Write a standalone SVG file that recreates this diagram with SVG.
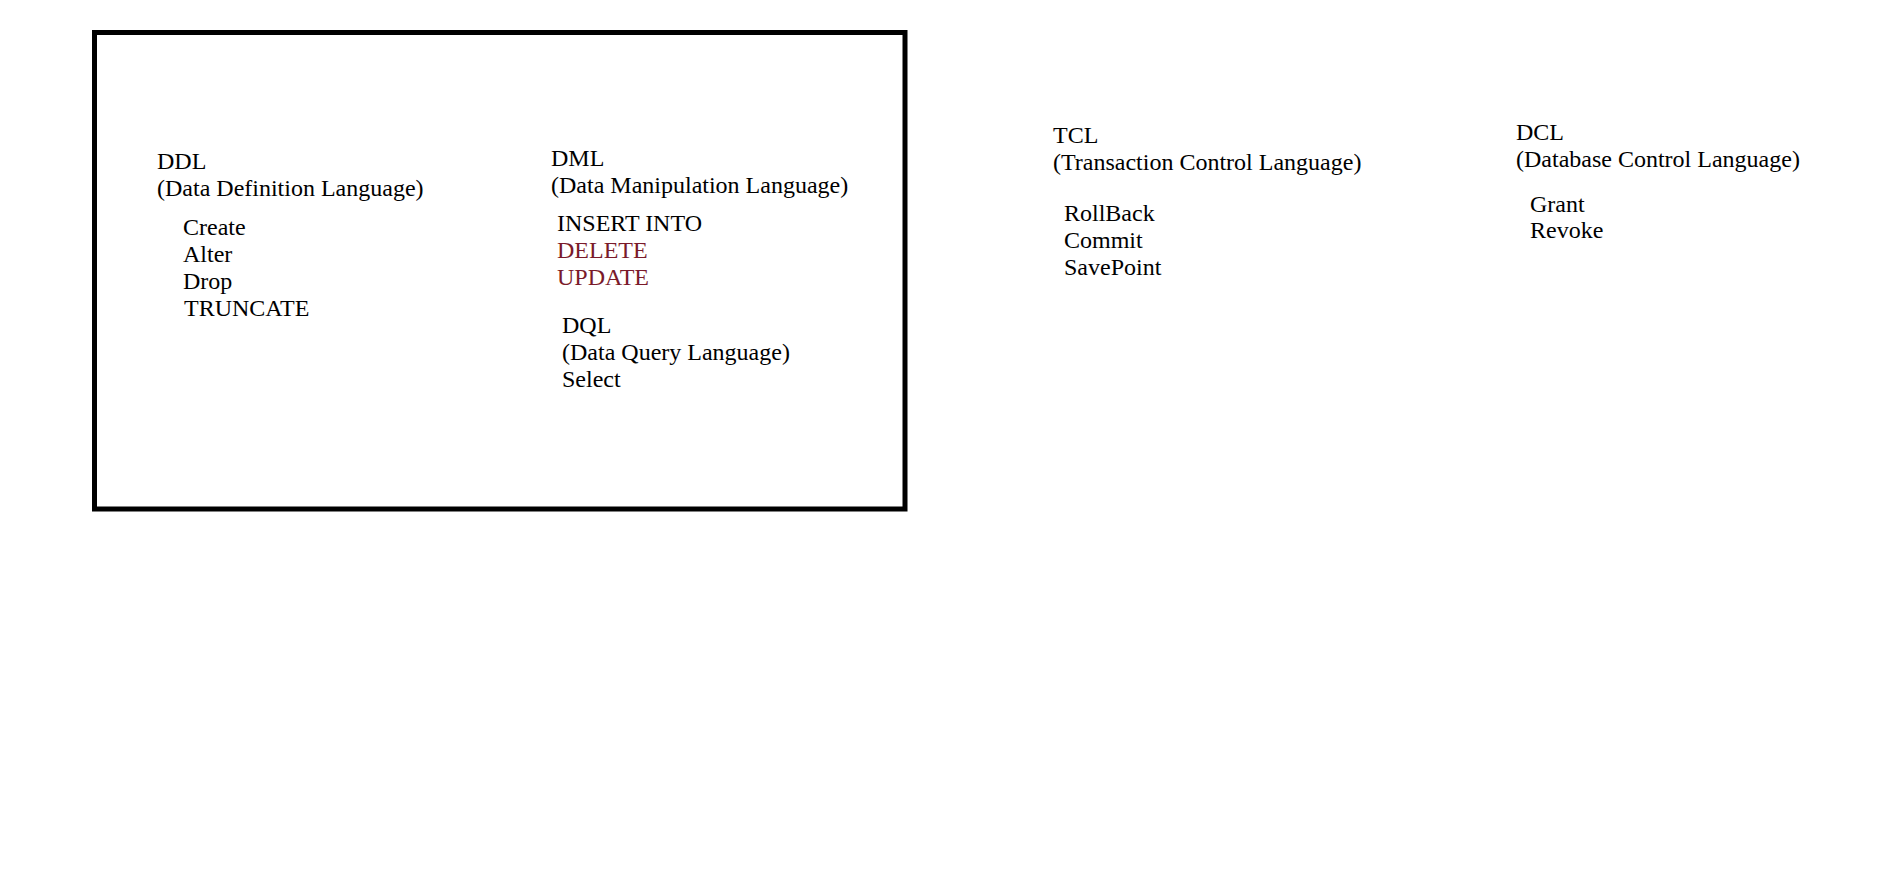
<svg xmlns="http://www.w3.org/2000/svg" width="1891" height="895" viewBox="0 0 1891 895">
<style>
text{font-family:"Liberation Serif","Times New Roman",serif;font-size:24px;fill:#000}
.red{fill:#7a1a2a}
.frame{fill:none;stroke:#000;stroke-width:5}
</style>
<rect width="1891" height="895" fill="#fff"/>
<g id="frame"><rect class="frame" x="94.5" y="32.5" width="810.5" height="476.5"/></g>
<g id="connectors"/>
<g id="ddl">
<text x="157" y="169">DDL</text>
<text x="157" y="196">(Data Definition Language)</text>
<text x="183" y="235">Create</text>
<text x="183" y="262">Alter</text>
<text x="183" y="289">Drop</text>
<text x="184" y="316">TRUNCATE</text>
</g>
<g id="dml">
<text x="551" y="166">DML</text>
<text x="551" y="193">(Data Manipulation Language)</text>
<text x="557" y="231">INSERT INTO</text>
<text class="red" x="557" y="258">DELETE</text>
<text class="red" x="557" y="285">UPDATE</text>
</g>
<g id="dql">
<text x="562" y="333">DQL</text>
<text x="562" y="360">(Data Query Language)</text>
<text x="562" y="387">Select</text>
</g>
<g id="tcl">
<text x="1053" y="143">TCL</text>
<text x="1053" y="170">(Transaction Control Language)</text>
<text x="1064" y="221">RollBack</text>
<text x="1064" y="248">Commit</text>
<text x="1064" y="275">SavePoint</text>
</g>
<g id="dcl">
<text x="1516" y="140">DCL</text>
<text x="1516" y="167">(Database Control Language)</text>
<text x="1530" y="212">Grant</text>
<text x="1530" y="238">Revoke</text>
</g>
</svg>
